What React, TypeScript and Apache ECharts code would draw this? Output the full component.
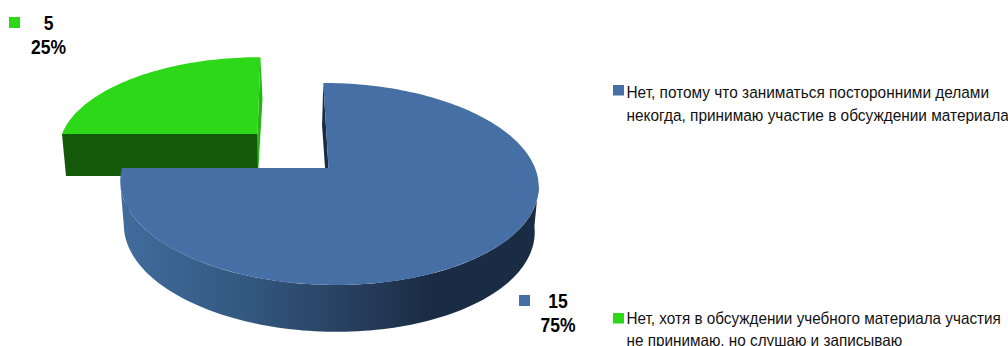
import React, { useEffect, useRef } from "react";
import * as echarts from "echarts";

const categories = [
  "Нет, потому что заниматься посторонними делами\nнекогда, принимаю участие в обсуждении материала",
  "Нет, хотя в обсуждении учебного материала участия\nне принимаю, но слушаю и записываю",
];
const values = [15, 5];

const topColors = ["#456FA5", "#2DD818"];
const keyColors = ["#456FA5", "#2DD818"];
const startWallColors = ["#1A2C44", "#14580A"];
const endWallColors = ["#416C9C", "#25B514"];

type Plane = { x0: number; y0: number; a: number; b: number; s: number; k: number };
const topPlanes: Plane[] = [
  { x0: 328.5, y0: 168, a: 206.5, b: 98.5, s: -6, k: 0.158 },
  { x0: 257.5, y0: 134, a: 195.5, b: 89, s: 3.5, k: 0.158 },
];
const bottomPlanes: Plane[] = [
  { x0: 328, y0: 210, a: 202, b: 100, s: -7, k: 0.179 },
  { x0: 258, y0: 176, a: 192, b: 89, s: 5.2, k: 0.158 },
];
const labelLayouts = [
  { keyX: 519, keyY: 295, textX: 558, textY: 289 },
  { keyX: 9, keyY: 17, textX: 48.5, textY: 11.5 },
];
const legendLayouts = [
  { keyX: 613, keyY: 85, textX: 626.5, lineY: [92, 115], lineScale: [0.934, 0.934] },
  { keyX: 613, keyY: 313, textX: 626.5, lineY: [318, 340], lineScale: [0.926, 0.926] },
];

const total = values.reduce((a, b) => a + b, 0);

function project(p: Plane, theta: number): number[] {
  const X = Math.sin(theta);
  const Y = Math.cos(theta);
  const w = 1 + p.k * Y;
  return [p.x0 + (p.a * X + p.s * Y) / w, p.y0 - (p.b * Y) / w];
}

function arc(p: Plane, from: number, to: number): number[][] {
  const pts: number[][] = [];
  const n = Math.max(8, Math.round(Math.abs(to - from) * 40));
  for (let i = 0; i <= n; i++) pts.push(project(p, from + ((to - from) * i) / n));
  return pts;
}

function sliceItem(index: number, value: number) {
  const before = values.slice(0, index).reduce((a, b) => a + b, 0);
  const start = (before / total) * Math.PI * 2;
  const end = ((before + value) / total) * Math.PI * 2;
  const top = topPlanes[index];
  const bot = bottomPlanes[index];
  const apexT = [top.x0, top.y0];
  const apexB = [bot.x0, bot.y0];
  // The outer wall only shows between the two silhouette tangents of the disc.
  const tangent = Math.acos(-top.k);
  const wallFrom = Math.max(start, tangent);
  const wallTo = Math.min(end, Math.PI * 2 - tangent);
  const wallFill = new echarts.graphic.LinearGradient(0, 0, 1, 0, [
    { offset: 0, color: "#416C9C" },
    { offset: 0.3, color: "#335880" },
    { offset: 0.52, color: "#294263" },
    { offset: 0.74, color: "#1A2C44" },
    { offset: 1, color: "#1A2C44" },
  ]);
  const lab = labelLayouts[index];
  const leg = legendLayouts[index];
  const pct = Math.round((value / total) * 100);
  const legendLines = categories[index].split("\n").map((line, i) => ({
    type: "text",
    x: leg.textX,
    y: leg.lineY[i],
    scaleX: leg.lineScale[i],
    style: {
      text: line,
      x: 0,
      y: 0,
      fill: "#111",
      font: '16.5px "Liberation Sans"',
      textAlign: "left",
      textVerticalAlign: "middle",
    },
  }));
  const outerWall =
    wallTo > wallFrom
      ? [
          {
            type: "polygon",
            shape: { points: [...arc(top, wallFrom, wallTo), ...arc(bot, wallTo, wallFrom)] },
            style: { fill: wallFill },
          },
        ]
      : [];
  return {
    type: "group",
    children: [
      ...outerWall,
      {
        type: "polygon",
        shape: { points: [apexT, project(top, end), project(bot, end), apexB] },
        style: { fill: endWallColors[index] },
      },
      {
        type: "polygon",
        shape: { points: [apexT, project(top, start), project(bot, start), apexB] },
        style: { fill: startWallColors[index] },
      },
      {
        type: "polygon",
        shape: { points: [apexT, ...arc(top, start, end)] },
        style: { fill: topColors[index] },
      },
      {
        type: "rect",
        shape: { x: lab.keyX, y: lab.keyY, width: 11, height: 11 },
        style: { fill: keyColors[index] },
      },
      {
        type: "text",
        x: lab.textX,
        y: lab.textY,
        scaleX: 0.875,
        style: {
          text: `${value}\n${pct}%`,
          x: 0,
          y: 0,
          fill: "#000",
          font: 'bold 20px "Liberation Sans"',
          lineHeight: 24,
          textAlign: "center",
          textVerticalAlign: "top",
        },
      },
      {
        type: "rect",
        shape: { x: leg.keyX, y: leg.keyY, width: 11, height: 10.5 },
        style: { fill: keyColors[index] },
      },
      ...legendLines,
    ],
  };
}

export default function App() {
  const ref = useRef<HTMLDivElement>(null);
  useEffect(() => {
    document.body.style.margin = "0";
    const chart = echarts.init(ref.current!, null, { renderer: "svg" });
    chart.setOption({
      animation: false,
      backgroundColor: "#fff",
      series: values.map((v, i) => ({
        type: "custom",
        name: categories[i],
        coordinateSystem: "none",
        z: i === 0 ? 3 : 2,
        silent: true,
        data: [[v]],
        renderItem: (_p: any, api: any) => sliceItem(i, api.value(0)),
      })),
    });
    return () => chart.dispose();
  }, []);
  return <div ref={ref} style={{ width: 1008, height: 346, overflow: "hidden" }} />;
}
